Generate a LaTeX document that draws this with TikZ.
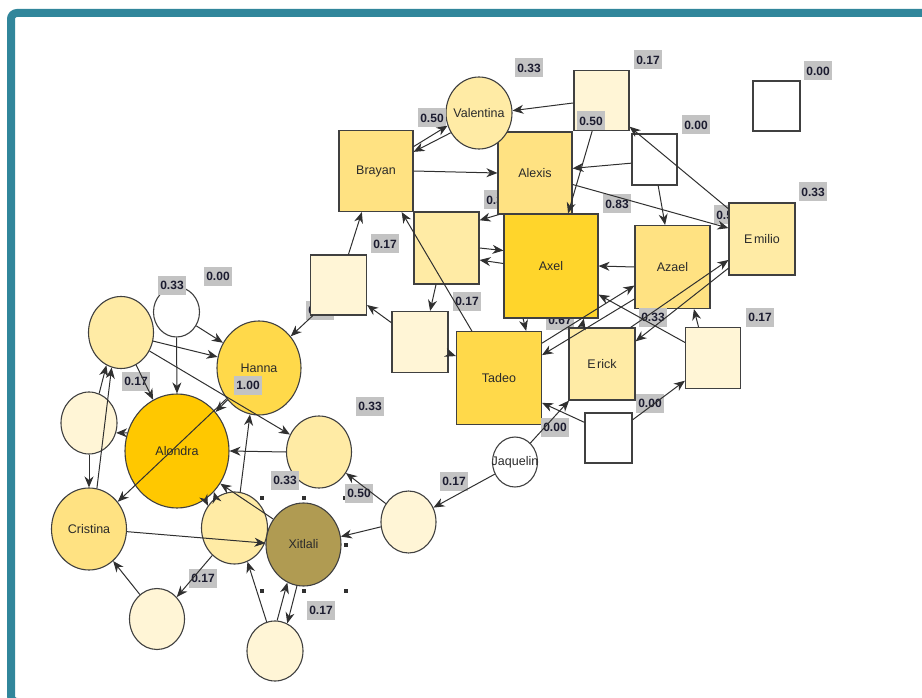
\documentclass[tikz,border=0pt]{standalone}
\usepackage{fontspec}
\setmainfont{Liberation Sans}
\usetikzlibrary{arrows.meta,shapes.geometric}
\definecolor{framec}{HTML}{31869B}
\definecolor{bordc}{HTML}{404040}
\definecolor{edgec}{HTML}{303030}
\definecolor{labgray}{HTML}{C3C3C3}
\definecolor{labtext}{HTML}{1C1C30}
\definecolor{nametext}{HTML}{2A2A2A}
\definecolor{cGold}{HTML}{FFE282}
\definecolor{cAxel}{HTML}{FFD52B}
\definecolor{cTad}{HTML}{FFD94A}
\definecolor{cAlo}{HTML}{FFC800}
\definecolor{cLight}{HTML}{FFEBA5}
\definecolor{cPale}{HTML}{FFF5D6}
\definecolor{cXit}{HTML}{B09B52}
\begin{document}
\begin{tikzpicture}[x=1pt,y=-1pt,
  sq/.style n args={3}{draw=bordc, line width=1.1pt, rectangle, inner sep=0pt, fill=#3, minimum width=#1pt, minimum height=#2pt},
  el/.style n args={3}{draw=bordc, line width=1.1pt, ellipse, inner sep=0pt, fill=#3, minimum width=#1pt, minimum height=#2pt},
  nm/.style={font=\fontsize{12.5}{14}\selectfont, text=nametext, inner sep=0pt},
  lab/.style={fill=labgray, font=\fontsize{12}{14}\selectfont\bfseries, text=labtext, minimum width=28pt, minimum height=19pt, inner sep=0pt},
  hnd/.style={fill=edgec, rectangle, minimum size=4pt, inner sep=0pt},
  edge/.style={draw=edgec, line width=1pt, -{Stealth[length=11pt,width=9pt,inset=3.5pt]}}]
\useasboundingbox (0,0) rectangle (922,698);
\draw[framec, line width=8pt, rounded corners=6pt] (11,13) rectangle (945,702);

% labels partly hidden by nodes
\node[lab] (l01) at (728,215) {0.50};
\node[lab] (l02) at (498,200) {0.33};
\node[lab] (l03) at (560,320) {0.67};
\node[lab] (l04) at (320,310) {0.33};

% selection handles
\node[hnd] (h1) at (262,498) {};
\node[hnd] (h2) at (304,498) {};
\node[hnd] (h3) at (345,498) {};
\node[hnd] (h4) at (346,545) {};
\node[hnd] (h5) at (262,591) {};
\node[hnd] (h6) at (304,591) {};
\node[hnd] (h7) at (346,591) {};

% square nodes
\node[sq={74}{81}{cGold}] (bra) at (376,171) {};
\node[sq={74}{82}{cGold}] (ale) at (535,173) {};
\node[sq={94}{104}{cAxel}] (axe) at (551,266) {};
\node[sq={75}{83}{cGold}] (aza) at (672.5,267) {};
\node[sq={66}{72}{cLight}] (emi) at (762,239) {};
\node[sq={66}{72}{cLight}] (eri) at (602,364) {};
\node[sq={85}{93}{cTad}] (tad) at (499,378) {};
\node[sq={55}{60}{cPale}] (s1) at (601.5,100.5) {};
\node[sq={45}{51}{white}] (s2) at (654.5,159.5) {};
\node[sq={47}{50}{white}] (s3) at (776.5,106) {};
\node[sq={65}{72}{cLight}] (s4) at (446.5,248) {};
\node[sq={56}{60}{cPale}] (s5) at (338.5,285) {};
\node[sq={56}{61}{cPale}] (s6) at (420,342) {};
\node[sq={55}{61}{cPale}] (s7) at (713,358) {};
\node[sq={47}{50}{white}] (s8) at (608.5,438) {};

% round nodes
\node[el={66}{72}{cLight}] (val) at (479,113) {};
\node[el={65}{72}{cLight}] (c1) at (121,332.5) {};
\node[el={46}{50}{white}] (cw) at (176.5,312) {};
\node[el={84}{94}{cTad}] (han) at (259,368) {};
\node[el={104}{114}{cAlo}] (alo) at (177,451) {};
\node[el={56}{62}{cPale}] (c2) at (89,423) {};
\node[el={75}{82}{cGold}] (cri) at (89,529) {};
\node[el={55}{61}{cPale}] (c3) at (157,619) {};
\node[el={65}{72}{cLight}] (c4) at (319,452) {};
\node[el={66}{72}{cLight}] (c5) at (234.5,528) {};
\node[el={75}{83}{cXit}] (xit) at (303.5,544.5) {};
\node[el={56}{60}{cPale}] (c6) at (275,651) {};
\node[el={45}{50}{white}] (jaq) at (515,462) {};
\node[el={55}{62}{cPale}] (c7) at (408.5,522) {};

% names
\node[nm] (tbra) at (bra) {Brayan};
\node[nm] (tale) at (ale) {Alexis};
\node[nm] (taxe) at (axe) {Axel};
\node[nm] (taza) at (aza) {Azael};
\node[nm] (temi) at (emi) {E\kern1.5pt milio};
\node[nm] (teri) at (eri) {E\kern1.5pt rick};
\node[nm] (ttad) at (tad) {Tadeo};
\node[nm] (tval) at (val) {Valentina};
\node[nm] (than) at (han) {Hanna};
\node[nm] (talo) at (alo) {Alondra};
\node[nm] (tcri) at (cri) {Cristina};
\node[nm] (txit) at (xit) {Xitlali};
\node[nm] (tjaq) at (jaq) {Jaquelin};

% visible labels
\node[lab] (l05) at (529,68) {0.33};
\node[lab] (l06) at (648,60) {0.17};
\node[lab] (l07) at (818,71) {0.00};
\node[lab] (l08) at (696,125) {0.00};
\node[lab] (l09) at (591,121) {0.50};
\node[lab] (l10) at (617,204) {0.83};
\node[lab] (l11) at (813,192) {0.33};
\node[lab] (l12) at (432,118) {0.50};
\node[lab] (l13) at (385,244) {0.17};
\node[lab] (l14) at (467,301) {0.17};
\node[lab] (l15) at (653,317) {0.33};
\node[lab] (l16) at (760,317) {0.17};
\node[lab] (l17) at (650,403) {0.00};
\node[lab] (l18) at (555,427) {0.00};
\node[lab] (l19) at (454,481) {0.17};
\node[lab] (l20) at (359,493) {0.50};
\node[lab] (l21) at (370,406) {0.33};
\node[lab] (l22) at (285,480) {0.33};
\node[lab] (l23) at (321,610) {0.17};
\node[lab] (l24) at (203,578) {0.17};
\node[lab] (l25) at (248,385) {1.00};
\node[lab] (l26) at (136,381) {0.17};
\node[lab] (l27) at (172,285) {0.33};
\node[lab] (l28) at (218,276) {0.00};

% connectors
\draw[edge] (bra.33) -- (val.202);
\draw[edge] (val.215) -- (bra.27);
\draw[edge] (s1.185) -- (val.4);
\draw[edge] (bra.0) -- (ale.180);
\draw[edge] (s2.189) -- (ale.7);
\draw[edge] (s1.253) -- (axe.72);
\draw[edge] (ale.-17) -- (emi.162);
\draw[edge] (emi.138) -- (s1.-43);
\draw[edge] (s2.-82) -- (aza.100);
\draw[edge] (aza.180) -- (axe.0);
\draw[edge] (ale.229) -- (s4.40);
\draw[edge] (s4.0) -- (axe.162);
\draw[edge] (axe.177) -- (s4.-20);
\draw[edge] (tad.120) -- (bra.-58);
\draw[edge] (s5.72) -- (bra.-109);
\draw[edge] (s6.146) -- (s5.-35);
\draw[edge] (s4.-106) -- (s6.72);
\draw[edge] (s6.-22) -- (tad.153);
\draw[edge] (axe.242) -- (tad.60);
\draw[edge] (eri.119) -- (axe.-58);
\draw[edge] (tad.39) -- (aza.206);
\draw[edge] (aza.220) -- (tad.28);
\draw[edge] (eri.52) -- (emi.212);
\draw[edge] (emi.221) -- (eri.34);
\draw[edge] (s7.151) -- (axe.-31);
\draw[edge] (s7.115) -- (aza.-63);
\draw[edge] (s8.37) -- (s7.219);
\draw[edge] (s8.147) -- (tad.-30);
\draw[edge] (jaq.51) -- (eri.228);
\draw[edge] (jaq.211) -- (c7.30);
\draw[edge] (c7.141) -- (c4.-38);
\draw[edge] (c7.190) -- (xit.12);
\draw[edge] (cw.-35) -- (han.145);
\draw[edge] (cw.-90) -- (alo.90);
\draw[edge] (c1.-15) -- (han.165);
\draw[edge] (c1.-33) -- (c4.149);
\draw[edge] (c1.-65) -- (alo.115);
\draw[edge] (han) -- (alo);
\draw[edge] (han) -- (cri);
\draw[edge] (c4.180) -- (alo.0);
\draw[edge] (alo.160) -- (c2.-20);
\draw[edge] (c2.-90) -- (cri.90);
\draw[edge] (c2.71) -- (c1.246);
\draw[edge] (cri.79) -- (c1.255);
\draw[edge] (c5.81) -- (han.259);
\draw[edge] (c5.122) -- (alo.-48);
\draw[edge] (alo.-60) -- (c5.140);
\draw[edge] (xit.140) -- (alo.-37);
\draw[edge] (cri.-4) -- (xit.178);
\draw[edge] (c5.231) -- (c3.48);
\draw[edge] (c3.125) -- (cri.-53);
\draw[edge] (c6.106) -- (c5.-69);
\draw[edge] (c6.86) -- (xit.247);
\draw[edge] (xit.261) -- (c6.66);
\draw[edge] (s5.230) -- (han.45);
\end{tikzpicture}
\end{document}
